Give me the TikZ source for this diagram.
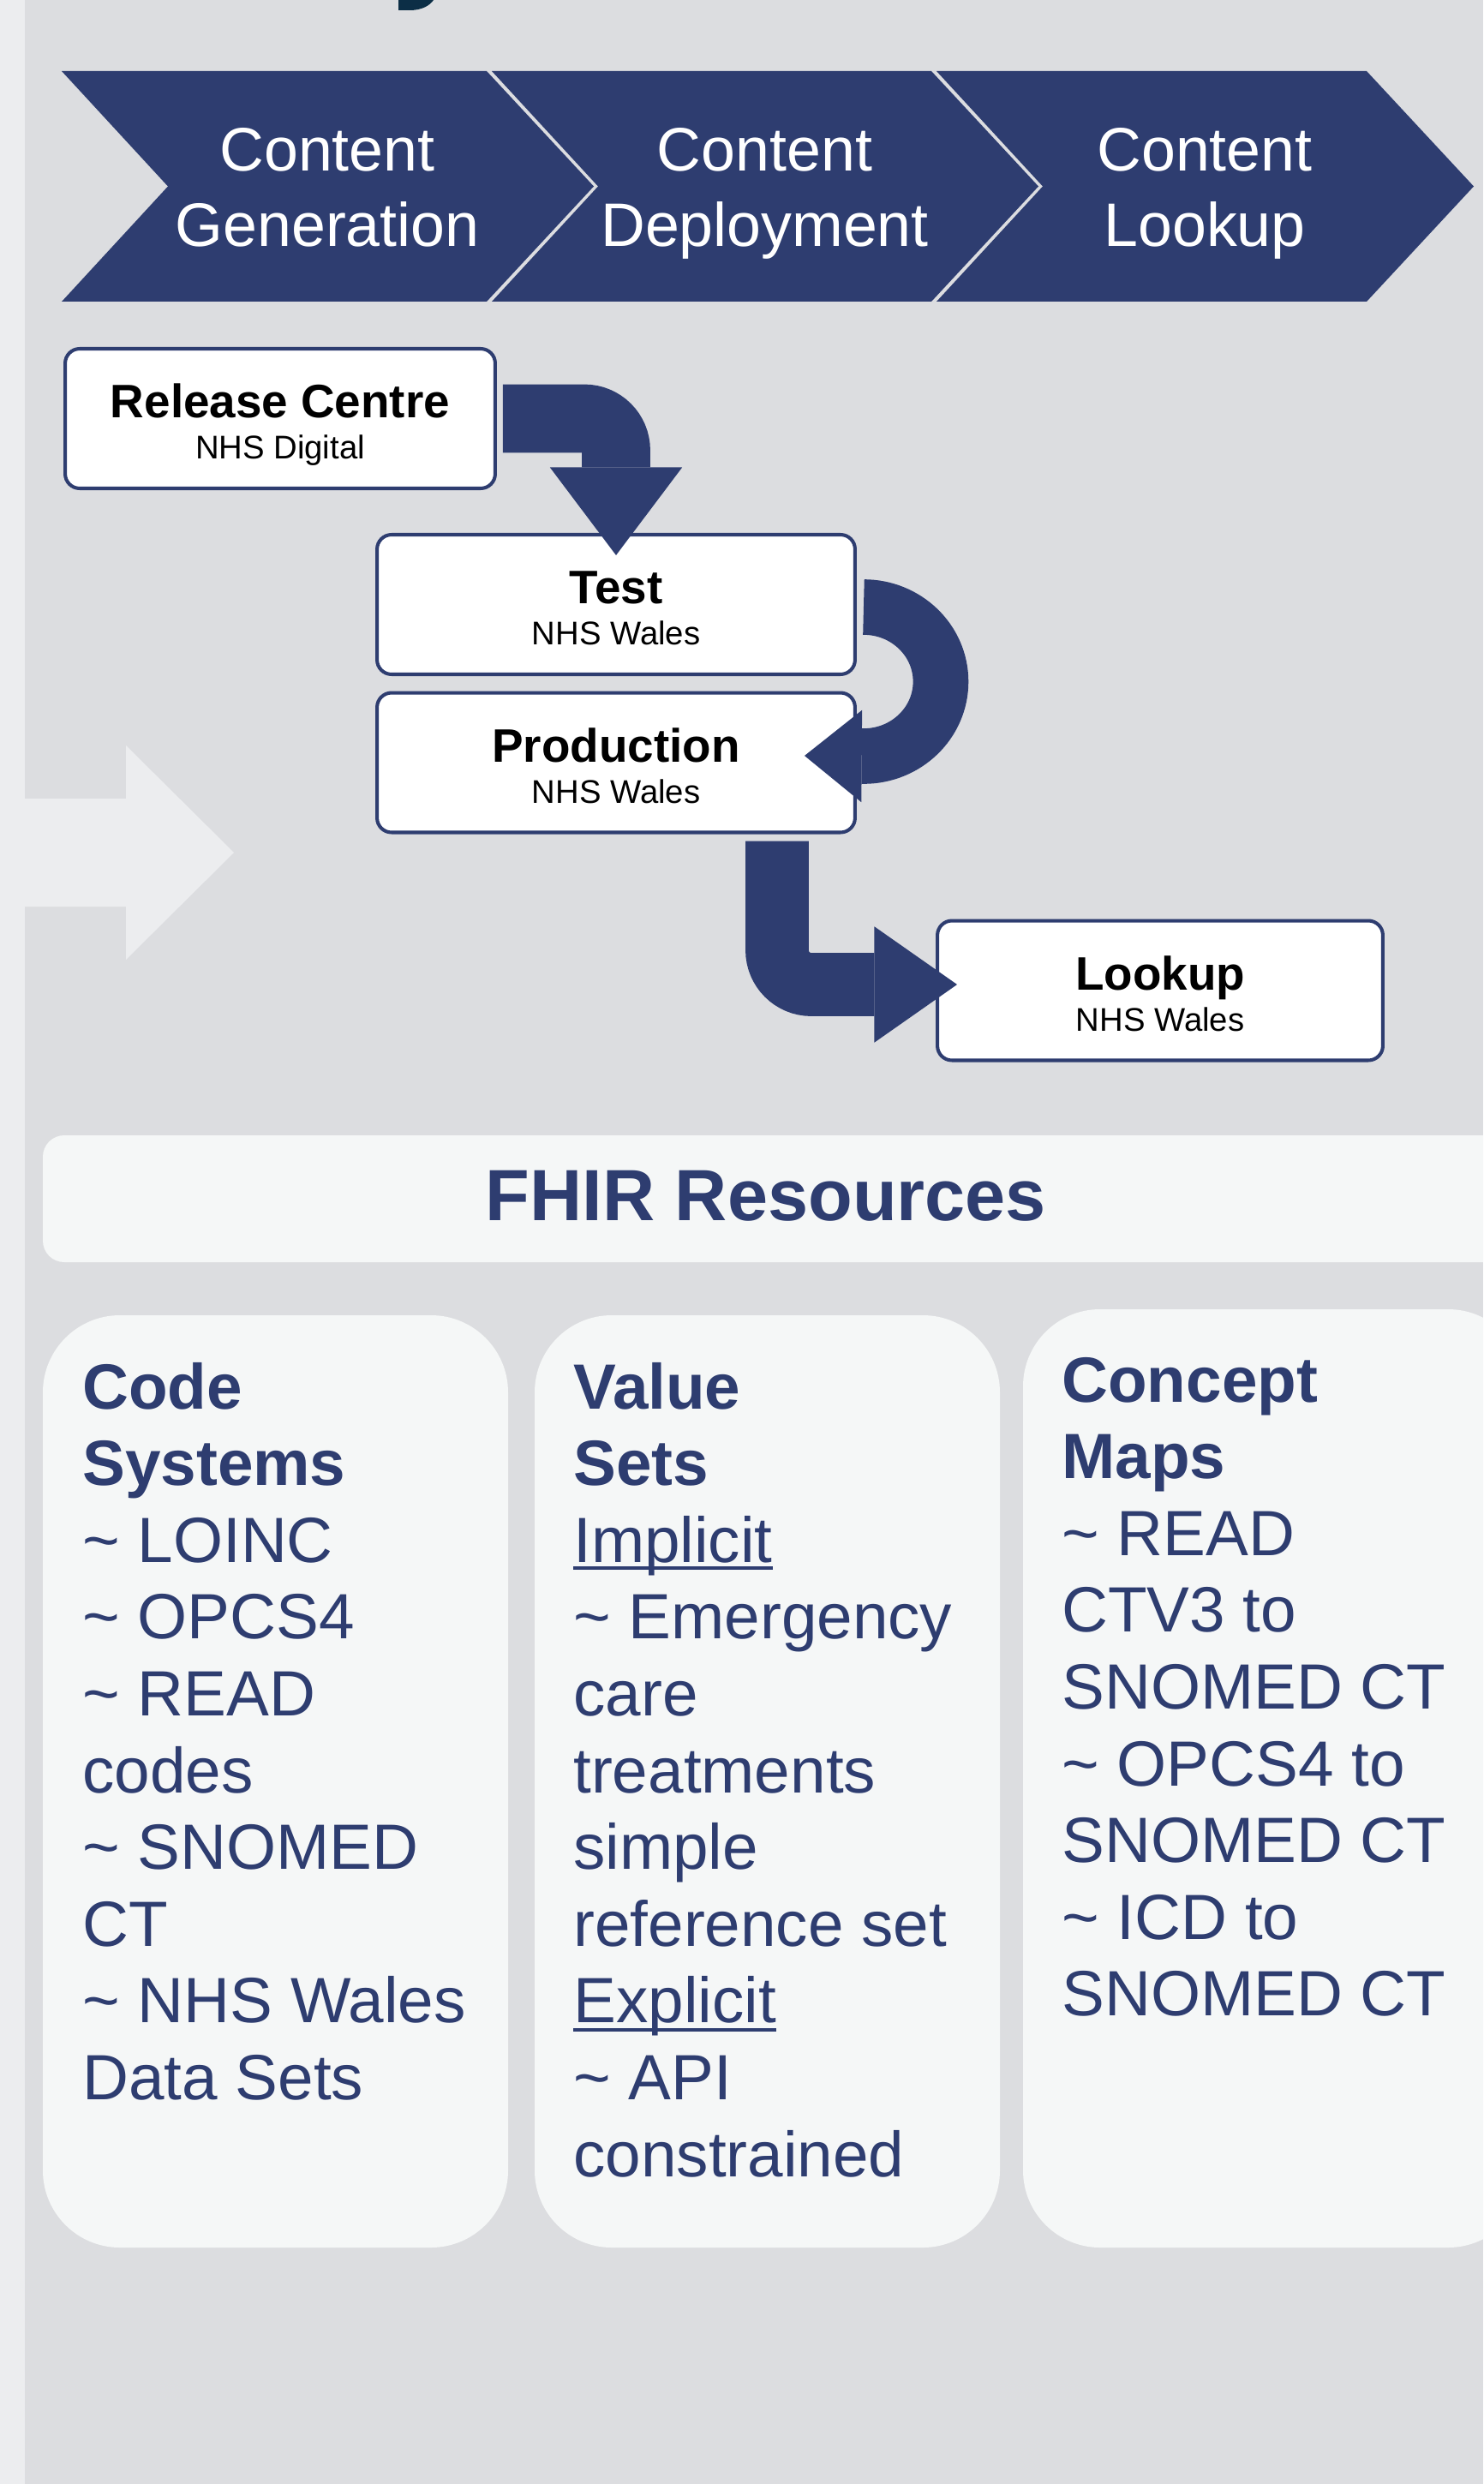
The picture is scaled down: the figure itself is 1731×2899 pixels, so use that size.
\documentclass[tikz,border=0pt]{standalone}
\usepackage{fontspec}
\setmainfont{Liberation Sans}
\usetikzlibrary{arrows.meta,calc}

\definecolor{navy}{RGB}{46,61,112}
\definecolor{pagegrey}{RGB}{220,221,224}
\definecolor{stripgrey}{RGB}{236,237,239}
\definecolor{cardwhite}{RGB}{245,247,247}
\definecolor{inkteal}{RGB}{12,46,70}

\tikzset{
  stagebox/.style={draw=navy, line width=2.3pt, fill=white, rounded corners=0.34cm,
    minimum height=3.26cm, inner sep=0pt},
  boxtitle/.style={anchor=base, inner sep=0pt, font=\bfseries\fontsize{31.2}{36}\selectfont},
  boxsub/.style={anchor=base, inner sep=0pt, font=\fontsize{21.8}{26}\selectfont},
  flow/.style={draw=navy},
  chevtext/.style={anchor=base, inner sep=0pt, text=white, font=\fontsize{40.8}{48}\selectfont},
  card/.style={fill=cardwhite, rounded corners=1.8cm},
  cardline/.style={anchor=base west, inner sep=0pt, text=navy, font=\fontsize{42.5}{50}\selectfont},
  uline/.style={navy, line width=2.4pt},
}

\begin{document}
\begin{tikzpicture}[x=0.02cm, y=-0.02cm]
  % page and side strip
  \clip (0,0) rectangle (1731,2899);
  \fill[pagegrey] (0,0) rectangle (1731,2899);
  \fill[stripgrey] (0,0) rectangle (29,2899);
  \fill[stripgrey] (0,932) -- (147,932) -- (147,870) -- (273,995)
    -- (147,1120) -- (147,1058) -- (0,1058) -- cycle;
  \fill[inkteal] (465,0) -- (465,12) -- (478,12) .. controls (493,12) and (502,6) .. (506,0) -- cycle;

  % process chevrons
  \foreach \l/\r/\ta/\tb [count=\i] in {72/568/Content/Generation,
      574/1087/Content/Deployment, 1093/1595/Content/Lookup} {
    \fill[navy] (\l,83) -- (\r,83) -- (\r+125,217.5) -- (\r,352) -- (\l,352)
      -- (\l+124,217.5) -- cycle;
    \node[chevtext] (ch\i a) at ({(\l+124+\r)/2},200) {\ta};
    \node[chevtext] (ch\i b) at ({(\l+124+\r)/2},288) {\tb};
  }

  % stages
  \node[stagebox, minimum width=10.04cm] (rc) at (327,488.5) {};
  \node[stagebox, minimum width=11.16cm] (test) at (719,705.5) {};
  \node[stagebox, minimum width=11.16cm] (prod) at (719,890) {};
  \node[stagebox, minimum width=10.4cm] (look) at (1354,1156) {};
  \foreach \nm/\ttl/\sub in {rc/Release Centre/NHS Digital, test/Test/NHS Wales,
      prod/Production/NHS Wales, look/Lookup/NHS Wales} {
    \node[boxtitle] (\nm-t) at ($(\nm.center)+(0,-1)$) {\ttl};
    \node[boxsub] (\nm-s) at ($(\nm.center)+(0,47)$) {\sub};
  }

  % block arrows between stages
  \draw[flow, line width=45.4pt, rounded corners=0.74cm,
        -{Triangle[length=58.4pt, width=87.9pt, line width=0pt]}]
    ($(rc.east)+(7,0)$) -| ($(test.north)+(0,26)$);
  \draw[flow, line width=36.8pt, -{Triangle[length=38pt, width=61.2pt, line width=0pt]}]
    ($(test.east)+(8,3)$) arc[start angle=-90, end angle=90, x radius=90, y radius=87]
    -- ($(prod.east)+(-61,-8)$);
  \draw[flow, line width=42pt, rounded corners=0.8cm,
        -{Triangle[length=55pt, width=77.1pt, line width=0pt]}]
    ($(prod.south)+(188,8)$) |- ($(look.west)+(25,-7)$);

  % FHIR banner
  \fill[cardwhite, rounded corners=0.5cm] (50,1325) rectangle (1760,1473);
  \node[anchor=base, inner sep=0pt, text=navy, font=\bfseries\fontsize{48.2}{56}\selectfont]
    (fhir) at (894,1424) {FHIR Resources};

  % resource cards
  \fill[card] (50,1535) rectangle (593,2623);
  \fill[card] (624,1535) rectangle (1167,2623);
  \fill[card] (1194,1528) rectangle (1780,2623);

  \foreach \txt [count=\k from 0] in {{\bfseries Code}, {\bfseries Systems},
      \textasciitilde{} LOINC, \textasciitilde{} OPCS4, \textasciitilde{} READ, codes,
      \textasciitilde{} SNOMED, CT, \textasciitilde{} NHS Wales, Data Sets}
    \node[cardline] (cs\k) at (96,{1644+\k*89.6}) {\txt};

  \foreach \txt [count=\k from 0] in {{\bfseries Value}, {\bfseries Sets}, Implicit,
      \textasciitilde{} Emergency, care, treatments, simple, reference set, Explicit,
      \textasciitilde{} API, constrained}
    \node[cardline] (vs\k) at (669,{1644+\k*89.6}) {\txt};
  \draw[uline] ([yshift=-4pt]vs2.base west) -- ([yshift=-4pt]vs2.base east);
  \draw[uline] ([yshift=-4.5pt]vs8.base west) -- ([yshift=-4.5pt]vs8.base east);

  \foreach \txt [count=\k from 0] in {{\bfseries Concept}, {\bfseries Maps},
      \textasciitilde{} READ, CTV3 to, SNOMED CT, \textasciitilde{} OPCS4 to, SNOMED CT,
      \textasciitilde{} ICD to, SNOMED CT}
    \node[cardline] (cm\k) at (1239,{1636+\k*89.6}) {\txt};
\end{tikzpicture}
\end{document}
